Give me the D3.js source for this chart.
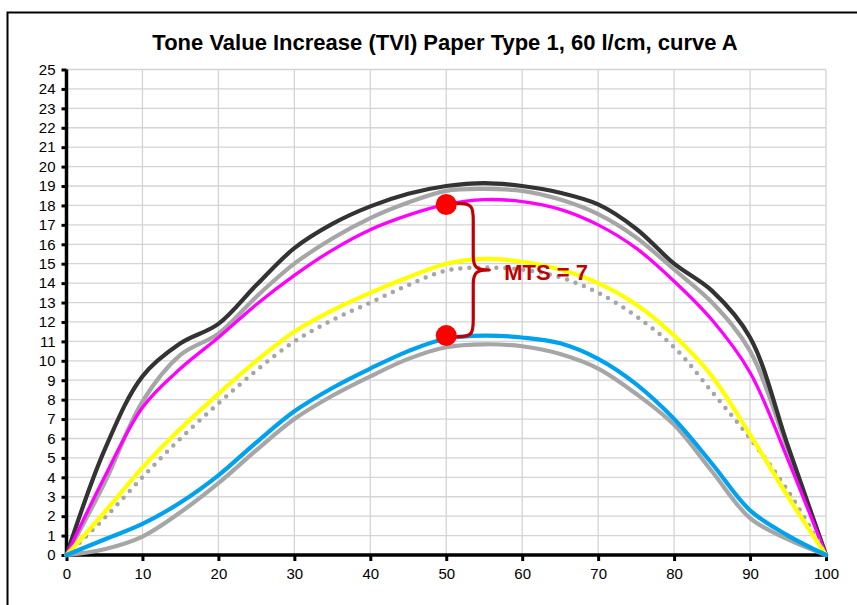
<!DOCTYPE html>
<html>
<head>
<meta charset="utf-8">
<script src="https://cdn.jsdelivr.net/npm/d3@7"></script>
<style>
  html, body { margin: 0; padding: 0; background: #fff; }
  svg { display: block; }
</style>
</head>
<body>
<svg id="chart" width="857" height="605"></svg>
<script>
// ---- Data ----
const xs = [0, 5, 10, 15, 20, 25, 30, 35, 40, 45, 50, 55, 60, 65, 70, 75, 80, 85, 90, 95, 100];

const blackValues   = [0, 5.4, 9.2, 10.9, 11.9, 13.9, 15.8, 17.05, 17.95, 18.6, 19.0, 19.15, 19.0, 18.65, 18.05, 16.8, 15.0, 13.6, 11.2, 5.6, 0];
const greyUpValues  = [0, 3.7, 7.9, 10.3, 11.4, 13.3, 15.0, 16.3, 17.35, 18.15, 18.75, 18.85, 18.75, 18.3, 17.55, 16.35, 14.7, 13.0, 10.5, 5.4, 0];
const magentaValues = [0, 4.0, 7.6, 9.6, 11.2, 12.9, 14.4, 15.7, 16.75, 17.5, 18.05, 18.3, 18.2, 17.8, 17.0, 15.8, 14.1, 12.1, 9.4, 4.9, 0];
const yellowValues  = [0, 2.2, 4.5, 6.5, 8.3, 10.0, 11.5, 12.6, 13.5, 14.3, 15.0, 15.25, 15.1, 14.7, 14.0, 12.9, 11.3, 9.2, 6.2, 3.0, 0];
const dottedValues  = [0, 1.9, 4.0, 6.0, 7.8, 9.5, 11.0, 12.1, 13.0, 13.9, 14.65, 14.8, 14.7, 14.3, 13.5, 12.3, 10.7, 8.4, 6.0, 3.3, 0];
const cyanValues    = [0, 0.8, 1.6, 2.7, 4.1, 5.8, 7.4, 8.6, 9.6, 10.5, 11.15, 11.3, 11.2, 10.9, 10.1, 8.8, 7.0, 4.7, 2.3, 1.0, 0];
const greyLowValues = [0, 0.3, 0.95, 2.2, 3.7, 5.4, 7.0, 8.2, 9.2, 10.1, 10.7, 10.85, 10.75, 10.35, 9.6, 8.3, 6.7, 4.3, 1.9, 0.8, 0];

const markerPoints = [{x: 50, y: 18.05}, {x: 50, y: 11.3}];
const annotationText = "MTS = 7";
const titleText = "Tone Value Increase (TVI) Paper Type 1, 60 l/cm, curve A";

const xTicks = [0, 10, 20, 30, 40, 50, 60, 70, 80, 90, 100];
const yTicks = d3.range(0, 26);

// ---- Layout ----
const svg = d3.select("#chart");
const pLeft = 66.5, pRight = 826, pTop = 69.5, pBottom = 555;
const x = d3.scaleLinear().domain([0, 100]).range([pLeft, pRight]);
const y = d3.scaleLinear().domain([0, 25]).range([pBottom, pTop]);

// outer border
svg.append("rect").attr("x", 7.5).attr("y", 12.5).attr("width", 1000).attr("height", 1000)
  .attr("fill", "#fff").attr("stroke", "#000").attr("stroke-width", 2);

// title
svg.append("text").attr("x", 445).attr("y", 50).attr("text-anchor", "middle")
  .attr("font-family", "Liberation Sans, Arial, sans-serif").attr("font-weight", "bold")
  .attr("font-size", 22).attr("fill", "#000").text(titleText);

// gridlines
const grid = svg.append("g").attr("stroke", "#d4d4d4").attr("stroke-width", 1.3);
yTicks.filter(d => d > 0).forEach(d => {
  grid.append("line").attr("x1", pLeft).attr("x2", pRight).attr("y1", y(d)).attr("y2", y(d));
});
xTicks.filter(d => d > 0).forEach(d => {
  grid.append("line").attr("x1", x(d)).attr("x2", x(d)).attr("y1", pTop).attr("y2", pBottom);
});

// axes
const yAxis = svg.append("g").attr("transform", `translate(${pLeft},0)`)
  .call(d3.axisLeft(y).tickValues(yTicks).tickSize(5).tickPadding(6).tickFormat(d3.format("d")));
const xAxis = svg.append("g").attr("transform", `translate(0,${pBottom})`)
  .call(d3.axisBottom(x).tickValues(xTicks).tickSize(6).tickPadding(7).tickFormat(d3.format("d")));
[yAxis, xAxis].forEach(g => {
  g.select(".domain").attr("stroke", "#000").attr("stroke-width", 3.5);
  g.selectAll(".tick line").attr("stroke", "#000").attr("stroke-width", 3);
  g.selectAll(".tick text").attr("font-family", "Liberation Sans, Arial, sans-serif")
    .attr("font-size", 15).attr("fill", "#000");
});
yAxis.select(".domain").attr("d", `M0,${pTop}V${pBottom}`);
xAxis.select(".domain").attr("d", `M${pLeft},0H${pRight}`);

// curves
const line = d3.line().x(d => x(d[0])).y(d => y(d[1])).curve(d3.curveCatmullRom.alpha(0.5));
const series = [
  {vals: greyUpValues,  color: "#a6a6a6", w: 4.2},
  {vals: blackValues,   color: "#333333", w: 4.2},
  {vals: magentaValues, color: "#ff00ff", w: 3.3},
  {vals: dottedValues,  color: "#a6a6a6", w: 4.5, dash: "0 9"},
  {vals: yellowValues,  color: "#ffff00", w: 4.2},
  {vals: greyLowValues, color: "#a6a6a6", w: 4.2},
  {vals: cyanValues,    color: "#00a2ed", w: 4.2}
];
const lines = svg.append("g").attr("fill", "none");
series.forEach(s => {
  const p = lines.append("path").datum(xs.map((v, i) => [v, s.vals[i]]))
    .attr("d", line).attr("stroke", s.color).attr("stroke-width", s.w)
    .attr("stroke-linecap", "round").attr("stroke-linejoin", "round");
  if (s.dash) p.attr("stroke-dasharray", s.dash);
});

// brace annotation
const bx = x(50), yTop = y(markerPoints[0].y), yBot = y(markerPoints[1].y);
const spine = bx + 27, tipX = bx + 43, yMid = (yTop + yBot) / 2;
const brace = `M${bx + 10},${yTop - 1} C${spine},${yTop - 2} ${spine},${yTop + 4} ${spine},${yTop + 16}
  L${spine},${yMid - 14} C${spine},${yMid - 2} ${spine + 4},${yMid} ${tipX},${yMid}
  C${spine + 4},${yMid} ${spine},${yMid + 2} ${spine},${yMid + 14}
  L${spine},${yBot - 16} C${spine},${yBot - 4} ${spine},${yBot + 2} ${bx + 10},${yBot + 1}`;
svg.append("path").attr("d", brace).attr("fill", "none").attr("stroke", "#c00000")
  .attr("stroke-width", 3.2).attr("stroke-linejoin", "round");

svg.append("text").attr("x", tipX + 15).attr("y", yMid + 10)
  .attr("font-family", "Liberation Sans, Arial, sans-serif").attr("font-weight", "bold")
  .attr("font-size", 22).attr("fill", "#c00000").text(annotationText);

// red markers
svg.append("g").selectAll("circle").data(markerPoints).join("circle")
  .attr("cx", d => x(d.x)).attr("cy", d => y(d.y)).attr("r", 10.5).attr("fill", "#ff0000");
</script>
</body>
</html>
